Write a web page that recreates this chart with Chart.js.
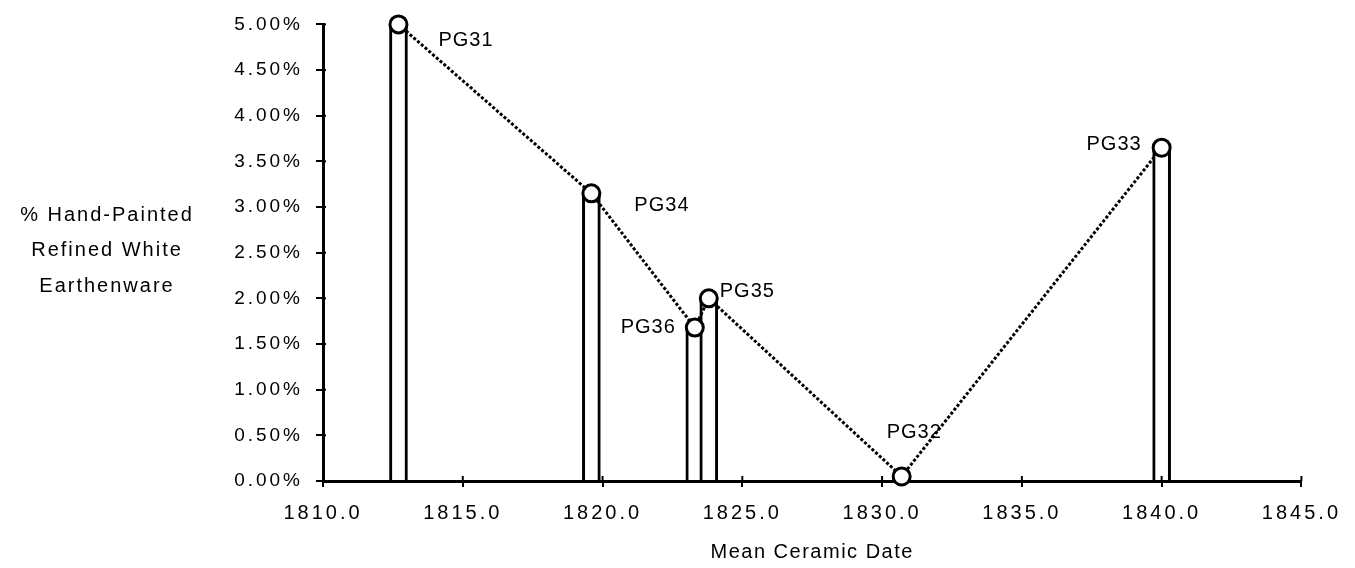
<!DOCTYPE html>
<html>
<head>
<meta charset="utf-8">
<script src="https://cdn.jsdelivr.net/npm/chart.js@4.4.1/dist/chart.umd.min.js"></script>
<style>
  html, body { margin: 0; padding: 0; background: #fff; }
  #wrap { width: 1355px; height: 568px; }
</style>
</head>
<body>
<div id="wrap"><canvas id="chart" width="1355" height="568"></canvas></div>
<script>
// sites, sorted by mean ceramic date
const sites = ["PG31", "PG34", "PG36", "PG35", "PG32", "PG33"];
const meanDates = [1812.7, 1819.6, 1823.3, 1823.8, 1830.7, 1840.0];
const handPainted = [5.0, 3.15, 1.68, 2.0, 0.05, 3.65];

const yTitleLines = ["% Hand-Painted", "Refined White", "Earthenware"];
const xTitle = "Mean Ceramic Date";

const FONT = "'Liberation Sans', Arial, sans-serif";

// where each site label sits relative to its point
const labelPlace = {
  PG31: { dx: 40, dy: 16, align: "left" },
  PG34: { dx: 43, dy: 12, align: "left" },
  PG36: { dx: -19, dy: 0, align: "right" },
  PG35: { dx: 11, dy: -7, align: "left" },
  PG32: { dx: -15, dy: -44, align: "left" },
  PG33: { dx: -20, dy: -3, align: "right" },
};

const points = meanDates.map((d, i) => ({ x: d, y: handPainted[i] }));

const spacingPlugin = {
  id: "spacing",
  beforeUpdate(chart) { chart.ctx.letterSpacing = "3px"; },
  beforeDraw(chart) {
    const ctx = chart.ctx;
    ctx.save();
    ctx.fillStyle = "#fff";
    ctx.fillRect(0, 0, chart.width, chart.height);
    ctx.restore();
    ctx.letterSpacing = "3px";
  },
};

const extrasPlugin = {
  id: "extras",
  afterDatasetsDraw(chart) {
    const ctx = chart.ctx;
    const meta = chart.getDatasetMeta(1);
    ctx.save();
    ctx.letterSpacing = "1px";
    ctx.font = "20px " + FONT;
    ctx.fillStyle = "#000";
    ctx.textBaseline = "middle";
    meta.data.forEach((pt, i) => {
      const p = labelPlace[sites[i]];
      ctx.textAlign = p.align;
      ctx.fillText(sites[i], pt.x + p.dx, pt.y + p.dy);
    });
    ctx.restore();
  },
  afterDraw(chart) {
    const ctx = chart.ctx;
    const { x, y } = chart.scales;
    ctx.save();
    // tick marks crossing into the plot
    ctx.strokeStyle = "#000";
    ctx.lineWidth = 2;
    x.ticks.forEach(t => {
      const px = x.getPixelForValue(t.value);
      ctx.beginPath();
      ctx.moveTo(px, x.top - 5);
      ctx.lineTo(px, x.top);
      ctx.stroke();
    });
    y.ticks.forEach(t => {
      const py = y.getPixelForValue(t.value);
      ctx.beginPath();
      ctx.moveTo(y.right, py);
      ctx.lineTo(y.right + 3, py);
      ctx.stroke();
    });
    // axis titles
    ctx.font = "20px " + FONT;
    ctx.fillStyle = "#000";
    ctx.textAlign = "center";
    ctx.textBaseline = "middle";
    ctx.letterSpacing = "2px";
    yTitleLines.forEach((line, i) => {
      ctx.fillText(line, 107, 215 + i * 35.5);
    });
    ctx.letterSpacing = "1.5px";
    ctx.fillText(xTitle, (x.left + x.right) / 2, 552);
    ctx.restore();
  },
};

new Chart(document.getElementById("chart"), {
  type: "bar",
  data: {
    datasets: [
      {
        type: "bar",
        data: points,
        backgroundColor: "#fff",
        borderColor: "#000",
        borderWidth: 3,
        barThickness: 18,
        order: 2,
      },
      {
        type: "line",
        data: points,
        borderColor: "#000",
        borderWidth: 3,
        borderDash: [3, 2],
        pointRadius: 8.5,
        pointBorderWidth: 3,
        pointBackgroundColor: "#fff",
        pointBorderColor: "#000",
        tension: 0,
        clip: false,
        order: 1,
      },
    ],
  },
  options: {
    responsive: false,
    animation: false,
    layout: { autoPadding: false, padding: { top: 22, right: 45, left: 0, bottom: 0 } },
    plugins: { legend: { display: false }, tooltip: { enabled: false } },
    scales: {
      x: {
        type: "linear",
        min: 1810,
        max: 1845,
        offset: false,
        afterFit(scale) { scale.height = 87; },
        ticks: {
          stepSize: 5,
          color: "#000",
          padding: 14,
          maxRotation: 0,
          font: { family: FONT, size: 20 },
          callback: v => v.toFixed(1),
        },
        grid: { offset: false, drawOnChartArea: false, drawTicks: true, tickLength: 6, color: "#000", lineWidth: 2 },
        border: { display: true, color: "#000", width: 3 },
      },
      y: {
        min: 0,
        max: 5,
        afterFit(scale) { scale.width = 323; },
        ticks: {
          stepSize: 0.5,
          color: "#000",
          padding: 13,
          font: { family: FONT, size: 19 },
          callback: v => v.toFixed(2) + "%",
        },
        grid: { drawOnChartArea: false, drawTicks: true, tickLength: 7, color: "#000", lineWidth: 2 },
        border: { display: true, color: "#000", width: 3 },
      },
    },
  },
  plugins: [spacingPlugin, extrasPlugin],
});
</script>
</body>
</html>
